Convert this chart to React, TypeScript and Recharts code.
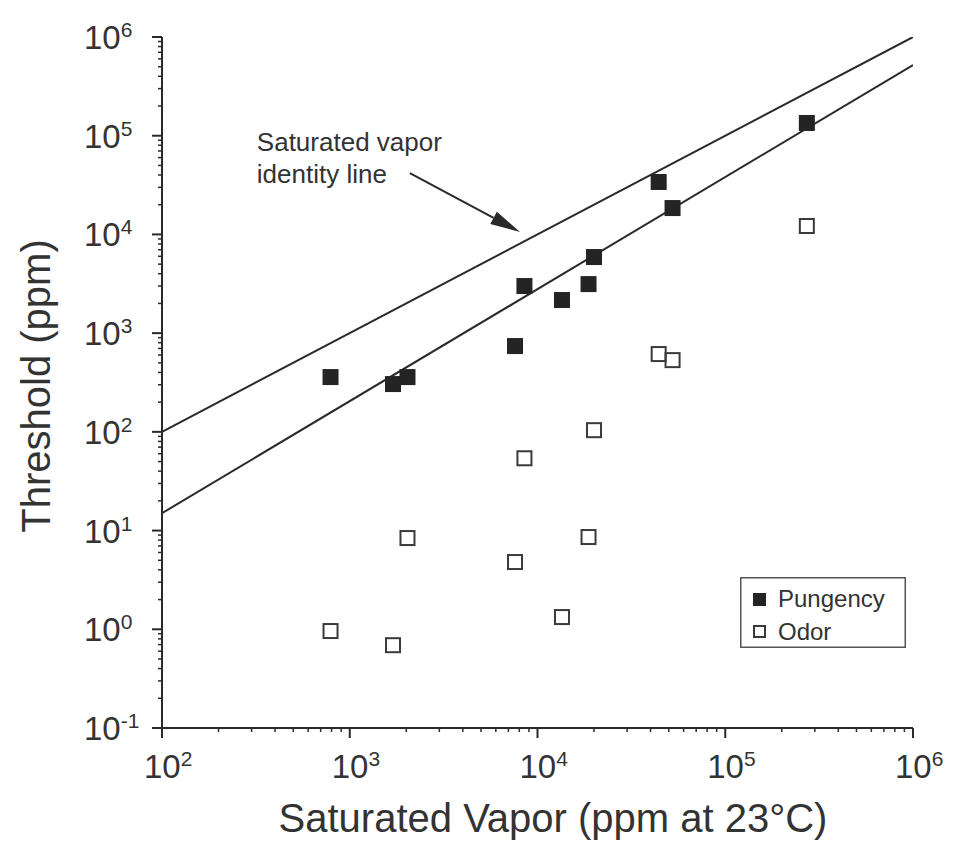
import { ScatterChart, Scatter, XAxis, YAxis, ReferenceLine, Legend, Label } from 'recharts'

// saturated vapor (ppm at 23°C), one entry per compound
const vapor = [790, 1700, 2030, 7590, 8520, 13500, 18700, 20000, 44200, 52400, 272000]
const pungency = [359, 305, 359, 740, 3000, 2165, 3140, 5900, 34000, 18500, 134600]
const odor = [0.96, 0.69, 8.4, 4.8, 54, 1.33, 8.6, 104, 614, 533, 12170]

// saturated vapor identity line and the fit under it
const identityX = [1e2, 1e6]
const identityY = [1e2, 1e6]
const fitX = [1e2, 1e6]
const fitY = [15, 5.2e5]

// annotation arrow (start, tip)
const arrowX = [2090, 8070]
const arrowY = [41900, 10570]

const xMajor = [1e2, 1e3, 1e4, 1e5, 1e6]
const yMajor = [0.1, 1, 1e1, 1e2, 1e3, 1e4, 1e5, 1e6]
const minorSteps = [2, 3, 4, 5, 6, 7, 8, 9]

const seriesNames = ['Pungency', 'Odor']

const withMinors = (majors: number[]) =>
  majors.concat(majors.slice(0, -1).flatMap((d) => minorSteps.map((m) => d * m))).sort((a, b) => a - b)

const xTicks = withMinors(xMajor)
const yTicks = withMinors(yMajor)

const toPoints = (xs: number[], ys: number[]) => xs.map((x, i) => ({ x, y: ys[i] }))

const FONT = '"Liberation Sans", Arial, Helvetica, sans-serif'
const INK = '#2a2a2a'

const isMajor = (v: number) => Math.abs(Math.log10(v) - Math.round(Math.log10(v))) < 1e-6
const expOf = (v: number) => Math.round(Math.log10(v))

function XTick({ x, y, payload }: any) {
  const v = payload.value
  const major = isMajor(v)
  return (
    <g>
      <line x1={x} x2={x} y1={y} y2={y + (major ? 10 : 4)} stroke={INK} strokeWidth={major ? 2 : 1.5} />
      {major && (
        <text x={x - 18} y={y + 50} fontSize={33} fill="#333" fontFamily={FONT}>
          10
          <tspan fontSize={21} dy={-12}>
            {expOf(v)}
          </tspan>
        </text>
      )}
    </g>
  )
}

function YTick({ x, y, payload }: any) {
  const v = payload.value
  const major = isMajor(v)
  return (
    <g>
      <line x1={x - (major ? 10 : 4)} x2={x} y1={y} y2={y} stroke={INK} strokeWidth={major ? 2 : 1.5} />
      {major && (
        <text x={x - 78} y={y + 12} fontSize={33} fill="#333" fontFamily={FONT}>
          10
          <tspan fontSize={21} dy={-12}>
            {expOf(v)}
          </tspan>
        </text>
      )}
    </g>
  )
}

const FilledSquare = ({ cx, cy }: any) => <rect x={cx - 8} y={cy - 8} width={16} height={16} fill="#242424" />
const OpenSquare = ({ cx, cy }: any) => (
  <rect x={cx - 7} y={cy - 7} width={14} height={14} fill="none" stroke="#3a3a3a" strokeWidth={2} />
)
const NoMark = () => <g />

function Arrow(props: any) {
  const { x1, y1, x2, y2 } = props
  const ang = Math.atan2(y2 - y1, x2 - x1)
  const len = 30
  const half = 7
  const bx = x2 - len * Math.cos(ang)
  const by = y2 - len * Math.sin(ang)
  const px = -Math.sin(ang) * half
  const py = Math.cos(ang) * half
  return (
    <g>
      <line x1={x1} y1={y1} x2={bx} y2={by} stroke={INK} strokeWidth={2} />
      <polygon points={`${x2},${y2} ${bx + px},${by + py} ${bx - px},${by - py}`} fill={INK} />
      <text x={x1 - 153} y={y1 - 22} fontSize={26} fill="#333" fontFamily={FONT}>
        Saturated vapor
      </text>
      <text x={x1 - 153} y={y1 + 10} fontSize={26} fill="#333" fontFamily={FONT}>
        identity line
      </text>
    </g>
  )
}

function LegendBox() {
  return (
    <svg width={166} height={71}>
      <rect x={0.75} y={0.75} width={164.5} height={69.5} fill="white" stroke="#555" strokeWidth={1.5} />
      <rect x={13} y={16} width={13} height={13} fill="#242424" />
      <text x={38} y={30} fontSize={24} fill="#333" fontFamily={FONT}>
        {seriesNames[0]}
      </text>
      <rect x={14} y={49} width={11} height={11} fill="none" stroke="#3a3a3a" strokeWidth={2} />
      <text x={38} y={63} fontSize={24} fill="#333" fontFamily={FONT}>
        {seriesNames[1]}
      </text>
    </svg>
  )
}

export default function App() {
  return (
    <div style={{ position: 'absolute', left: 0, top: 0, width: 956, height: 843, background: 'white' }}>
      <ScatterChart width={956} height={843} margin={{ top: 37, right: 43, bottom: 114, left: 161 }}>
        <XAxis
          dataKey="x"
          type="number"
          scale="log"
          domain={[1e2, 1e6]}
          allowDataOverflow
          ticks={xTicks}
          interval={0}
          tickSize={0}
          tickMargin={0}
          tickLine={false}
          tick={(p: any) => <XTick {...p} />}
          height={1}
          axisLine={{ stroke: INK, strokeWidth: 2 }}
        >
          <Label
            content={() => (
              <text x={553} y={832} textAnchor="middle" fontSize={40} fill="#333" fontFamily={FONT}>
                Saturated Vapor (ppm at 23°C)
              </text>
            )}
          />
        </XAxis>
        <YAxis
          dataKey="y"
          type="number"
          scale="log"
          domain={[0.1, 1e6]}
          allowDataOverflow
          ticks={yTicks}
          interval={0}
          tickSize={0}
          tickMargin={0}
          tickLine={false}
          tick={(p: any) => <YTick {...p} />}
          width={1}
          axisLine={{ stroke: INK, strokeWidth: 2 }}
        >
          <Label
            content={() => (
              <text
                transform="translate(50,386) rotate(-90)"
                textAnchor="middle"
                fontSize={40}
                fill="#333"
                fontFamily={FONT}
              >
                Threshold (ppm)
              </text>
            )}
          />
        </YAxis>
        <Scatter
          name="identity"
          data={toPoints(identityX, identityY)}
          line={{ stroke: INK, strokeWidth: 2 }}
          shape={NoMark}
          legendType="none"
          isAnimationActive={false}
        />
        <Scatter
          name="fit"
          data={toPoints(fitX, fitY)}
          line={{ stroke: INK, strokeWidth: 2 }}
          shape={NoMark}
          legendType="none"
          isAnimationActive={false}
        />
        <Scatter name={seriesNames[1]} data={toPoints(vapor, odor)} shape={OpenSquare} isAnimationActive={false} />
        <Scatter name={seriesNames[0]} data={toPoints(vapor, pungency)} shape={FilledSquare} isAnimationActive={false} />
        <ReferenceLine
          segment={[
            { x: arrowX[0], y: arrowY[0] },
            { x: arrowX[1], y: arrowY[1] },
          ]}
          ifOverflow="visible"
          shape={Arrow}
        />
        <Legend
          layout="vertical"
          align="center"
          verticalAlign="middle"
          wrapperStyle={{ left: 740, top: 577, width: 166, height: 71 }}
          content={() => <LegendBox />}
        />
      </ScatterChart>
    </div>
  )
}
